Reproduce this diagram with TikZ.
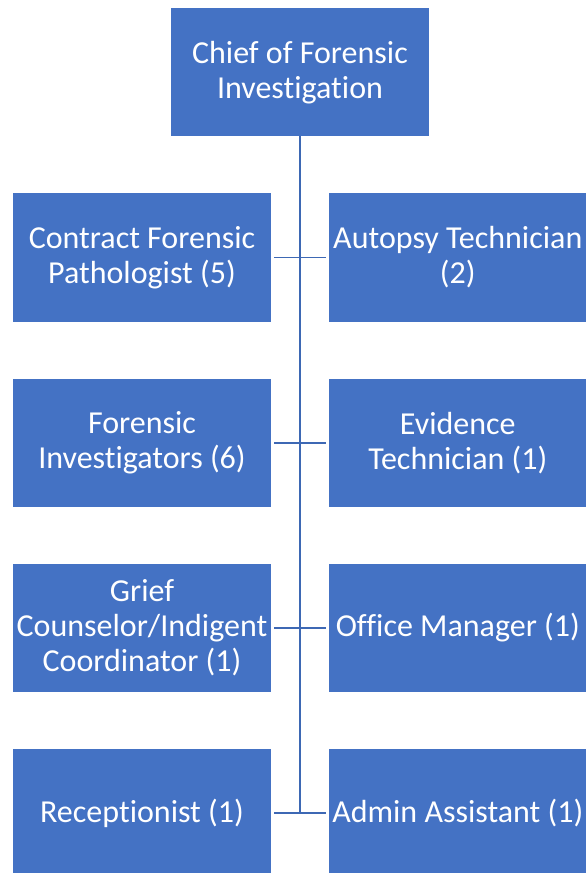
\documentclass[tikz,border=0pt]{standalone}
\usepackage{fontspec}
\setmainfont[Ligatures={NoCommon}]{Carlito}
\definecolor{boxblue}{HTML}{4472C4}
\definecolor{lineblue}{HTML}{3D68B4}
\begin{document}
\begin{tikzpicture}[x=1pt,y=-1pt,
  orgbox/.style={rectangle, fill=boxblue, text=white, inner sep=0pt, outer sep=0pt,
    minimum width=258.6pt, minimum height=128.4pt, align=center,
    font=\fontsize{32}{35}\selectfont},
  link/.style={draw=lineblue, line width=1.8pt}]
\useasboundingbox (0,0) rectangle (586,873);
\clip (0,0) rectangle (586,873);
\node[orgbox, minimum height=127.7pt] (chief) at (300,72.2) {Chief of Forensic\\Investigation};
\node[orgbox] (l1) at (142,257.5) {Contract Forensic\\Pathologist (5)};
\node[orgbox] (r1) at (457.8,257.5) {Autopsy Technician\\(2)};
\node[orgbox] (l2) at (142,442.7) {Forensic\\Investigators (6)};
\node[orgbox] (r2) at (457.8,442.7) {Evidence\\Technician (1)};
\node[orgbox] (l3) at (142,628) {Grief\\Counselor/Indigent\\Coordinator (1)};
\node[orgbox] (r3) at (457.8,628) {Office Manager (1)};
\node[orgbox] (l4) at (142,813.2) {Receptionist (1)};
\node[orgbox] (r4) at (457.8,813.2) {Admin Assistant (1)};
\coordinate (bend) at (300,813.2);
\draw[link] (chief.south) -- (bend);
\foreach \i in {1,2,3,4}{
  \draw[link] ([xshift=3pt]l\i.east) -- ([xshift=-3pt]r\i.west);
}
\end{tikzpicture}
\end{document}
